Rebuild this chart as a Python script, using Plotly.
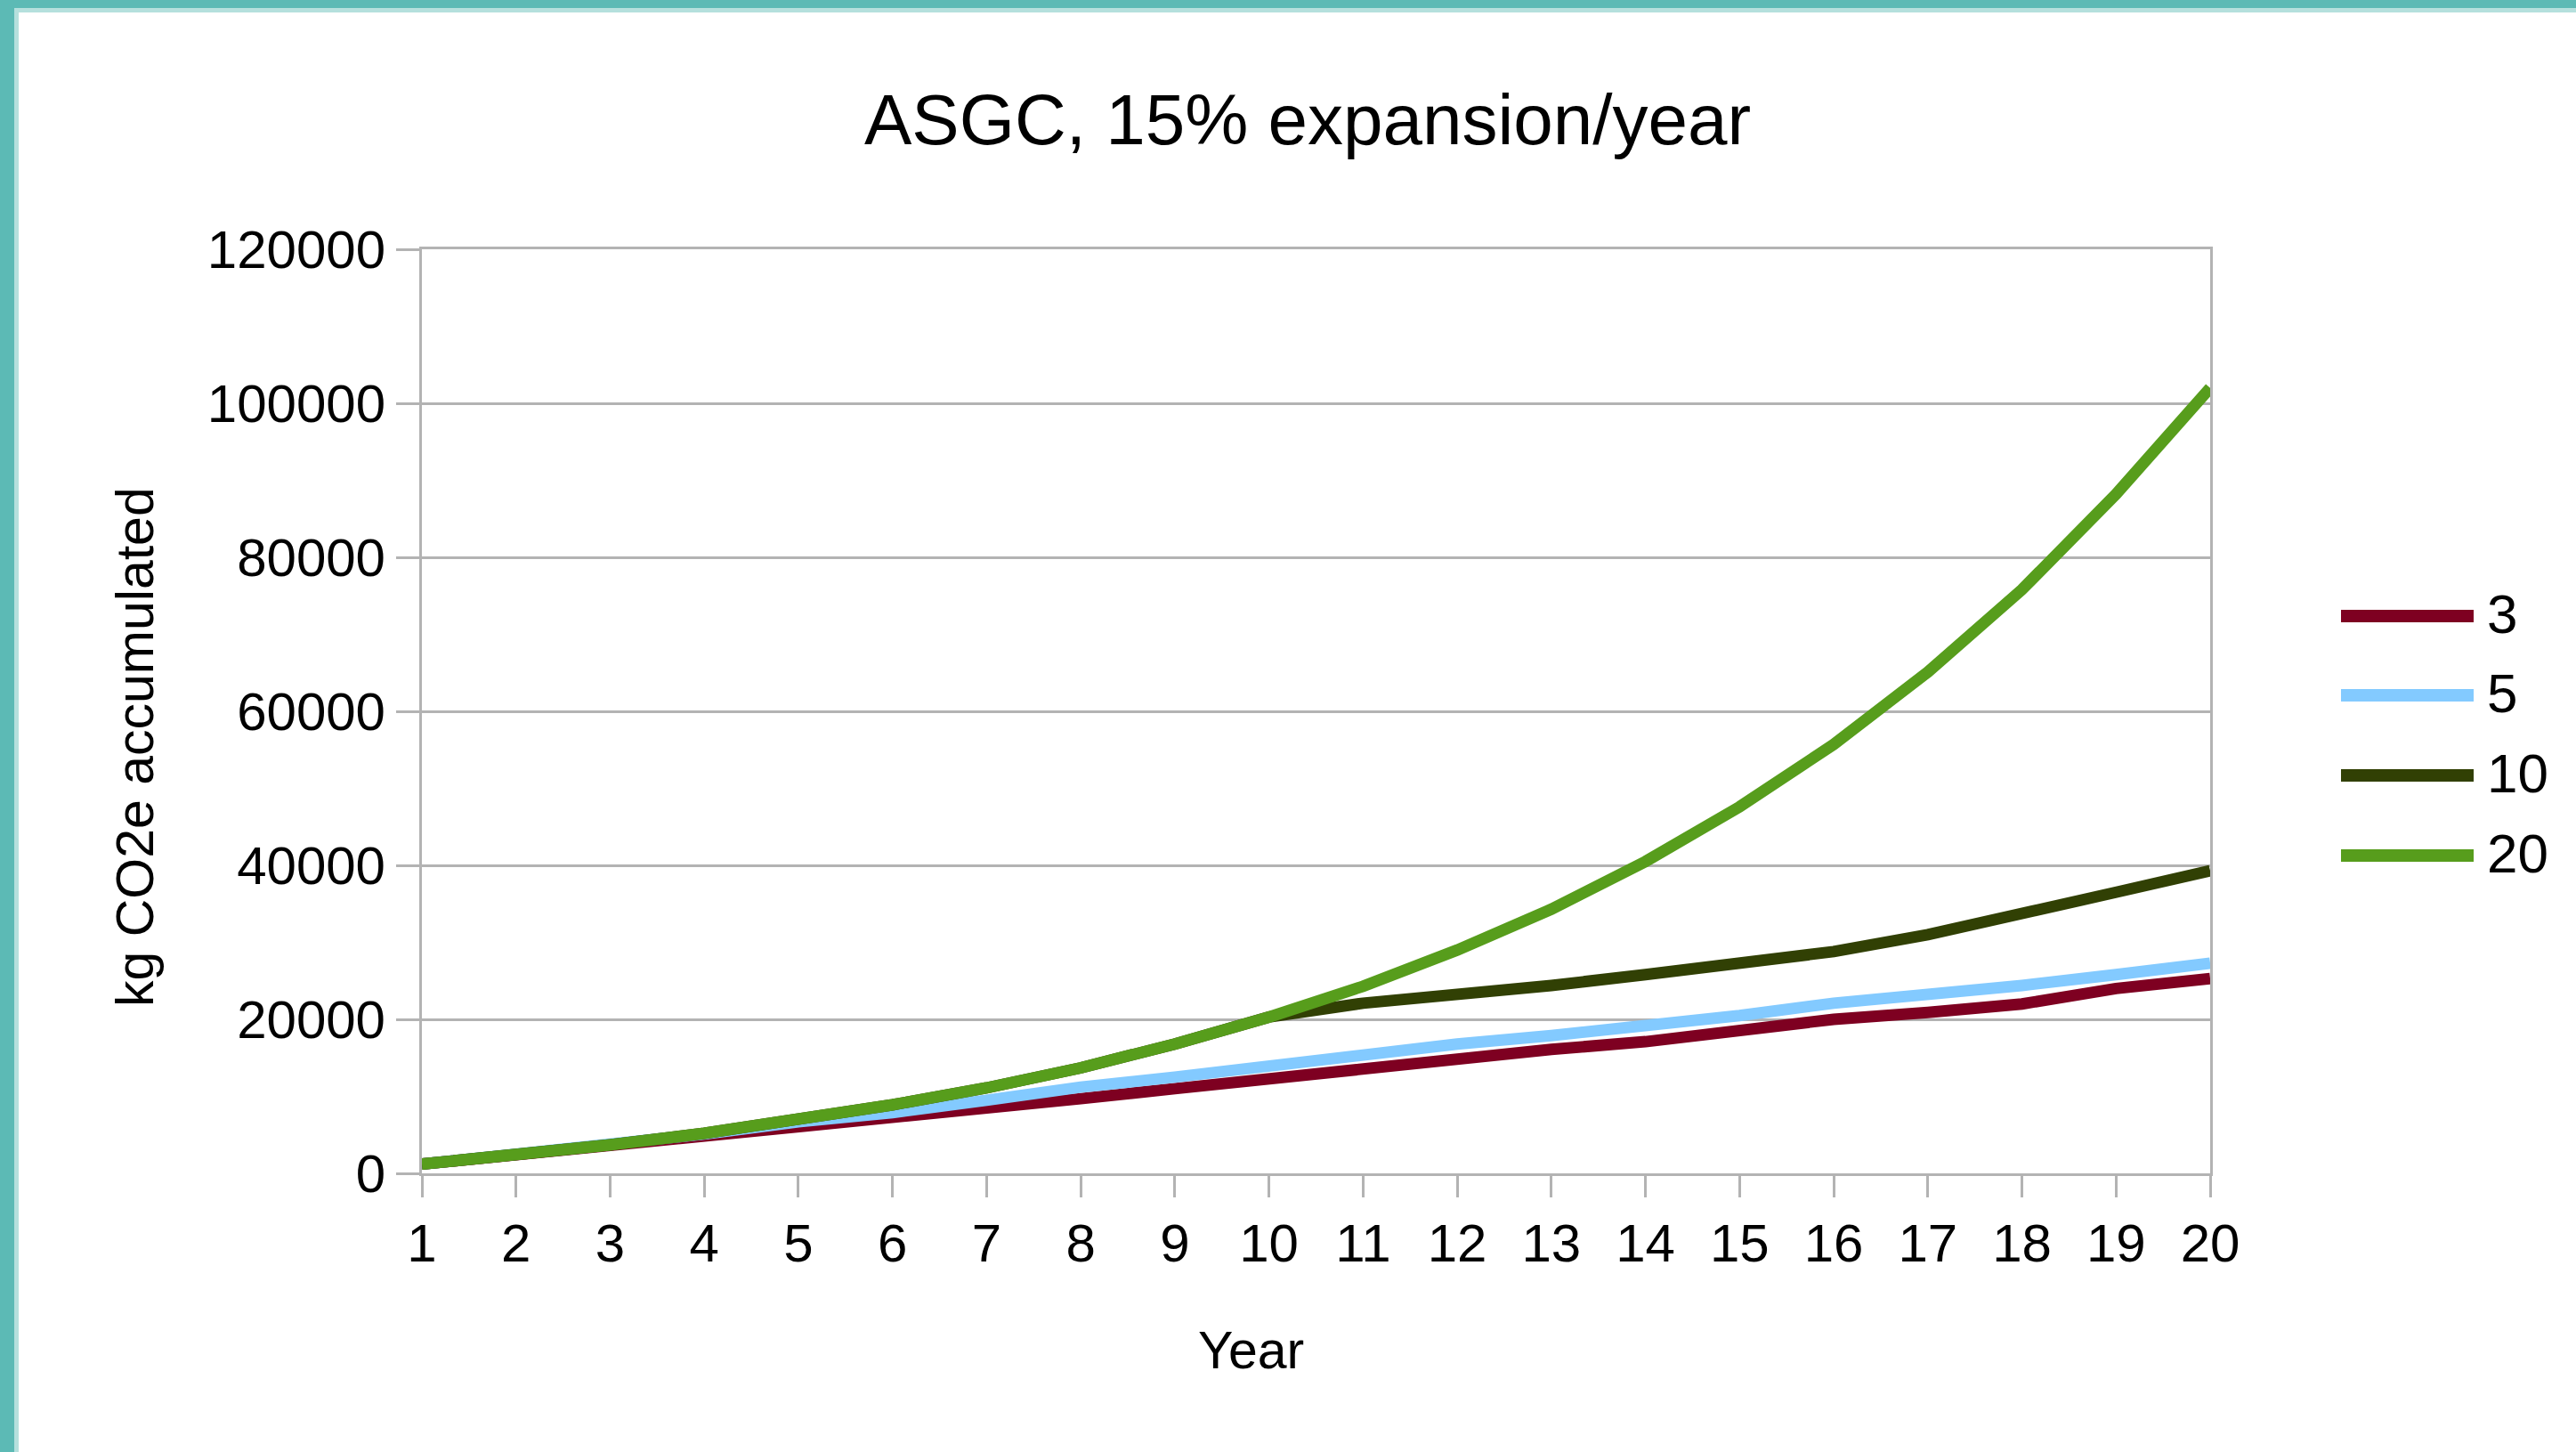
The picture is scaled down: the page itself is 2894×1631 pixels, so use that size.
import plotly.graph_objects as go

# Accumulated kg CO2e per year, one series per hardware lifetime (years)
years = list(range(1, 21))
series_names = ["3", "5", "10", "20"]

life_3 = [1200, 2400, 3600, 4700, 5900, 7000, 8400, 9700, 11000, 12300,
          13600, 14800, 16100, 17100, 18400, 20000, 20900, 22000, 24000, 25300]
life_5 = [1200, 2400, 3700, 5100, 6700, 7900, 9500, 11200, 12500, 14000,
          15500, 16800, 17900, 19100, 20500, 22100, 23200, 24400, 25800, 27300]
life_10 = [1200, 2400, 3700, 5200, 6900, 8900, 11100, 13700, 16800, 20300,
           22100, 23200, 24400, 25800, 27200, 28800, 31000, 33600, 36500, 39300]
life_20 = [1200, 2400, 3700, 5200, 6900, 8900, 11100, 13700, 16800, 20300,
           24300, 29000, 34300, 40500, 47600, 55700, 65100, 75800, 88200, 102000]

series_values = [life_3, life_5, life_10, life_20]
series_colors = ["#7e0021", "#83caff", "#314004", "#579d1c"]

title_text = "ASGC, 15% expansion/year"
x_title = "Year"
y_title = "kg CO2e accumulated"
y_ticks = [0, 20000, 40000, 60000, 80000, 100000, 120000]

# Page geometry (pixels)
W, H = 2894, 1631
L, R, T, B = 474, 2483, 280, 1318
GRID = "#b3b3b3"
FONT = "Liberation Sans, Arial, sans-serif"


def px(x):
    return (x - L) / (R - L)


def py(y):
    return (B - y) / (B - T)


fig = go.Figure()
for name, vals, col in zip(series_names, series_values, series_colors):
    fig.add_trace(go.Scatter(x=years, y=vals, name=name, mode="lines",
                             line=dict(color=col, width=13),
                             showlegend=False))

shapes = []
# teal frame along top and left edges of the page
teal, teal_light = "#5cbab5", "#b5e0dd"
shapes.append(dict(type="rect", xref="paper", yref="paper", layer="above",
                   x0=px(0), x1=px(W), y0=py(0), y1=py(14),
                   fillcolor=teal_light, line=dict(width=0)))
shapes.append(dict(type="rect", xref="paper", yref="paper", layer="above",
                   x0=px(0), x1=px(21), y0=py(0), y1=py(H),
                   fillcolor=teal_light, line=dict(width=0)))
shapes.append(dict(type="rect", xref="paper", yref="paper", layer="above",
                   x0=px(0), x1=px(W), y0=py(0), y1=py(9),
                   fillcolor=teal, line=dict(width=0)))
shapes.append(dict(type="rect", xref="paper", yref="paper", layer="above",
                   x0=px(0), x1=px(16), y0=py(0), y1=py(H),
                   fillcolor=teal, line=dict(width=0)))

annotations = []
# legend drawn as long line keys with labels
leg_y = [692, 781, 871, 961]
for name, col, ly in zip(series_names, series_colors, leg_y):
    shapes.append(dict(type="line", xref="paper", yref="paper",
                       x0=px(2630), x1=px(2779), y0=py(ly), y1=py(ly),
                       line=dict(color=col, width=14)))
    annotations.append(dict(text=name, xref="paper", yref="paper",
                            x=px(2792), y=py(ly - 3), xanchor="left",
                            yanchor="middle", showarrow=False,
                            font=dict(size=62, color="#000000", family=FONT)))

annotations.append(dict(text=title_text, xref="paper", yref="paper",
                        x=px(1469), y=py(135), xanchor="center",
                        yanchor="middle", showarrow=False,
                        font=dict(size=80, color="#000000", family=FONT)))
annotations.append(dict(text=x_title, xref="paper", yref="paper",
                        x=px(1405), y=py(1517), xanchor="center",
                        yanchor="middle", showarrow=False,
                        font=dict(size=59, color="#000000", family=FONT)))
annotations.append(dict(text=y_title, xref="paper", yref="paper",
                        x=px(152), y=py(839), xanchor="center",
                        yanchor="middle", showarrow=False, textangle=-90,
                        font=dict(size=59, color="#000000", family=FONT)))

fig.update_layout(
    width=W, height=H, autosize=False,
    margin=dict(l=L, r=W - R, t=T, b=H - B, pad=0),
    paper_bgcolor="#ffffff", plot_bgcolor="#ffffff",
    font=dict(family=FONT, color="#000000", size=60),
    showlegend=False,
    shapes=shapes, annotations=annotations,
    xaxis=dict(range=[1, 20], tickvals=years, ticks="outside", ticklen=24,
               tickwidth=3, tickcolor=GRID, showline=True, linecolor=GRID,
               linewidth=3, mirror=True, showgrid=False, zeroline=False,
               tickfont=dict(size=60, color="#000000", family=FONT)),
    yaxis=dict(range=[0, 120000], tickvals=y_ticks, tickformat="d",
               ticks="outside", ticklen=26, tickwidth=3, tickcolor=GRID,
               showline=True, linecolor=GRID, linewidth=3, mirror=True,
               showgrid=True, gridcolor=GRID, gridwidth=3, zeroline=False,
               tickfont=dict(size=60, color="#000000", family=FONT)),
)

fig.write_html("out.html")
